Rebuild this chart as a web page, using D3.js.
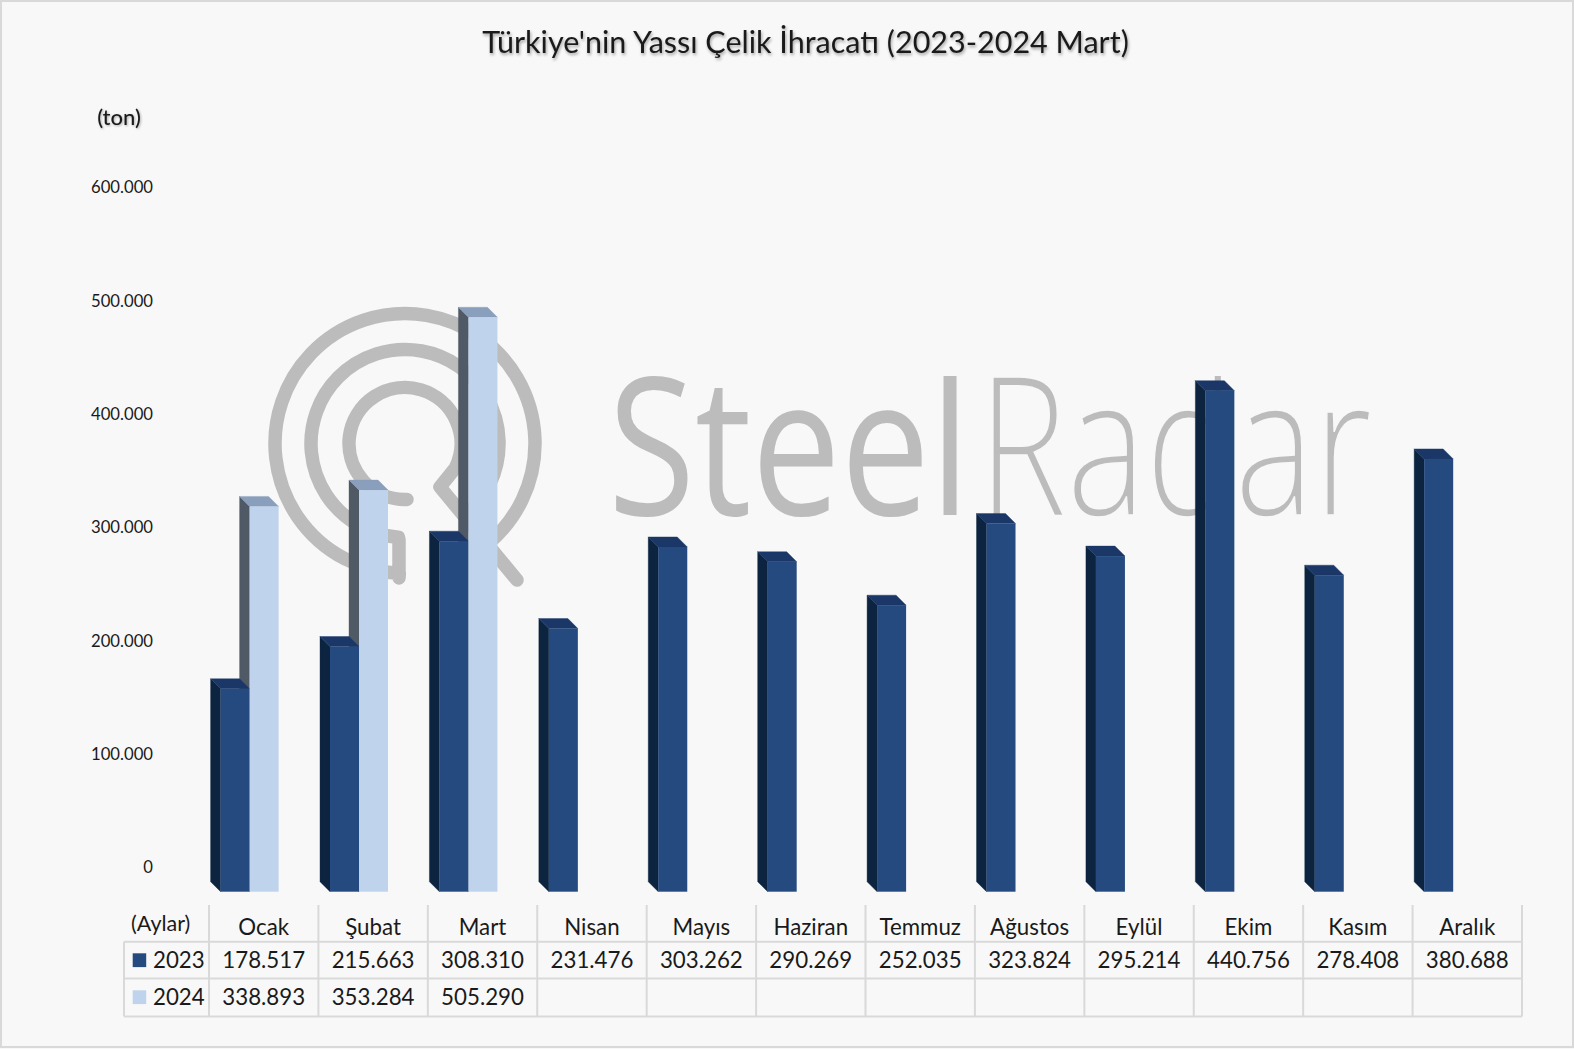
<!DOCTYPE html>
<html lang="tr"><head><meta charset="utf-8">
<script src="https://cdn.jsdelivr.net/npm/d3@7"></script>
<style>
html,body{margin:0;padding:0;background:#f8f8f8;overflow:hidden}
svg{display:block}
text{font-family:Lato,"Open Sans",sans-serif;fill:#1a1a1a}
</style></head><body>
<svg id="c" width="1574" height="1049"></svg>
<script>
const months = ["Ocak","Şubat","Mart","Nisan","Mayıs","Haziran","Temmuz","Ağustos","Eylül","Ekim","Kasım","Aralık"];
const years = ["2023","2024"];
const values2023 = [178517,215663,308310,231476,303262,290269,252035,323824,295214,440756,278408,380688];
const values2024 = [338893,353284,505290,null,null,null,null,null,null,null,null,null];
const yTicks = [0,100000,200000,300000,400000,500000,600000];
const titleText = "Türkiye'nin Yassı Çelik İhracatı (2023-2024 Mart)";

const W=1574,H=1049,DEPTH=10;
const svg=d3.select("#c");
const loc=d3.formatLocale({decimal:",",thousands:".",grouping:[3],currency:["","₺"]});
const fmt=loc.format(",d");

svg.append("rect").attr("x",1).attr("y",1).attr("width",W-2).attr("height",H-3)
  .attr("fill","#f8f8f8").attr("stroke","#d9d9d9").attr("stroke-width",2);

// watermark
svg.append("clipPath").attr("id","wmclip").append("rect").attr("x",590).attr("y",376).attr("width",800).attr("height",150);
const wm=svg.append("g");
const cx=405,cy=443.5,rad=Math.PI/180;
const p1=d3.path();
p1.arc(cx,cy,130,50.7*rad,92.5*rad-2*Math.PI,true);
p1.lineTo(399,578);p1.lineTo(399,540);
p1.arc(cx,cy,94,94*rad,410.8*rad,false);
const p2=d3.path();
p2.arc(cx,cy,56,88*rad,386*rad,false);
p2.lineTo(440,487);p2.lineTo(517,580);
wm.selectAll("path").data([p1,p2]).join("path").attr("d",d=>d.toString())
  .attr("fill","none").attr("stroke","#bcbcbc").attr("stroke-width",13.5)
  .attr("stroke-linecap","round").attr("stroke-linejoin","round");
const wt=wm.append("g").attr("clip-path","url(#wmclip)");
function squeezed(str,x0,width,weight){
  const t=wt.append("g").append("text").text(str)
    .style("font-family","'Open Sans'").style("font-size","193px").style("font-weight",weight).style("fill","#bcbcbc");
  const sx=width/t.node().getComputedTextLength();
  t.attr("transform",`translate(${x0},515) scale(${sx},1)`);
  return t;
}
squeezed("Steel",608,362,500);
squeezed("Radar",978,394,300).style("stroke","#f8f8f8").style("stroke-width","1.5px");

// title
svg.append("text").attr("x",805.5).attr("y",52.5).attr("text-anchor","middle").text(titleText)
  .style("font-size","30.5px").style("filter","drop-shadow(1px 2px 1.5px rgba(0,0,0,.35))");
svg.append("text").attr("x",119).attr("y",124.5).attr("text-anchor","middle").text("(ton)")
  .style("font-size","22px").style("font-weight",500).style("filter","drop-shadow(1px 1px 1px rgba(0,0,0,.3))");

// scales
const x=d3.scaleBand().domain(months).range([209,1522]);
const s=d3.scaleBand().domain(years).range([11.6,69.6]);
const y=d3.scaleLinear().domain([0,600000]).range([891.7,209.6]);
const yLab=d3.scaleLinear().domain([0,600000]).range([867.5,187.3]);

// y axis labels
const ax=svg.append("g").attr("transform","translate(153,0)")
  .call(d3.axisLeft(yLab).tickValues(yTicks).tickSize(0).tickPadding(0).tickFormat(fmt));
ax.select(".domain").remove();
ax.selectAll("text").style("font-size","16.7px").style("font-family","Lato").attr("fill","#1a1a1a");

// bars
const col={ "2023":{front:"#254a80",side:"#0d2440",top:"#1a3768"},
            "2024":{front:"#bfd3ec",side:"#4f5a66",top:"#8a9fbc"} };
const rows=months.flatMap((m,i)=>[
  {m,yr:"2023",v:values2023[i]},{m,yr:"2024",v:values2024[i]}]).filter(d=>d.v!=null);
const base=y(0),w=s.bandwidth();
const X=d=>x(d.m)+s(d.yr);
const sidePts=d=>[[X(d)-DEPTH,y(d.v)-DEPTH],[X(d),y(d.v)],[X(d),base],[X(d)-DEPTH,base-DEPTH]].join(" ");
const topPts=d=>[[X(d)-DEPTH,y(d.v)-DEPTH],[X(d)-DEPTH+w,y(d.v)-DEPTH],[X(d)+w,y(d.v)],[X(d),y(d.v)]].join(" ");
function faces(g,data){
  g.selectAll("polygon.s").data(data).join("polygon").attr("class","s").attr("points",sidePts).attr("fill",d=>col[d.yr].side).attr("stroke",d=>col[d.yr].side).attr("stroke-width",0.4);
  g.selectAll("polygon.t").data(data).join("polygon").attr("class","t").attr("points",topPts).attr("fill",d=>col[d.yr].top).attr("stroke",d=>col[d.yr].top).attr("stroke-width",0.4);
}
function front(g,data){
  g.selectAll("rect").data(data).join("rect").attr("x",X).attr("y",d=>y(d.v)).attr("width",w)
    .attr("height",d=>base-y(d.v)).attr("fill",d=>col[d.yr].front);
}
const d23=rows.filter(d=>d.yr==="2023"),d24=rows.filter(d=>d.yr==="2024");
faces(svg.append("g"),d24);
const g23=svg.append("g");faces(g23,d23);front(g23.append("g"),d23);
front(svg.append("g"),d24);

// data table
const T=svg.append("g");
const rowY=[941.7,978.6,1016.5],topY=905,left=124,right=1522;
const lines=T.append("g").attr("stroke","#d9d9d9").attr("stroke-width",2);
lines.selectAll("line.h").data(rowY).join("line").attr("class","h")
  .attr("x1",left).attr("x2",right).attr("y1",d=>d).attr("y2",d=>d);
lines.selectAll("line.v").data([...months.map(m=>x(m)),right]).join("line").attr("class","v")
  .attr("x1",d=>d).attr("x2",d=>d).attr("y1",topY).attr("y2",rowY[2]);
lines.append("line").attr("x1",left).attr("x2",left).attr("y1",rowY[0]).attr("y2",rowY[2]);
const fs="22.3px";
T.selectAll("text.m").data(months).join("text").attr("class","m")
  .attr("x",m=>x(m)+x.bandwidth()/2).attr("y",935).attr("text-anchor","middle").text(m=>m).style("font-size",fs);
T.append("text").attr("x",131).attr("y",931).text("(Aylar)").style("font-size","21.5px");
[values2023,values2024].forEach((vals,k)=>{
  const yy=[968,1005][k];
  T.append("g").selectAll("text").data(vals.map((v,i)=>({v,m:months[i]})).filter(d=>d.v!=null)).join("text")
    .attr("x",d=>x(d.m)+x.bandwidth()/2).attr("y",yy).attr("text-anchor","middle").text(d=>fmt(d.v)).style("font-size",fs);
  T.append("rect").attr("x",132.7).attr("y",yy-14.7).attr("width",13.5).attr("height",13.8).attr("fill",col[years[k]].front);
  T.append("text").attr("x",153).attr("y",yy).text(years[k]).style("font-size",fs);
});
</script></body></html>
